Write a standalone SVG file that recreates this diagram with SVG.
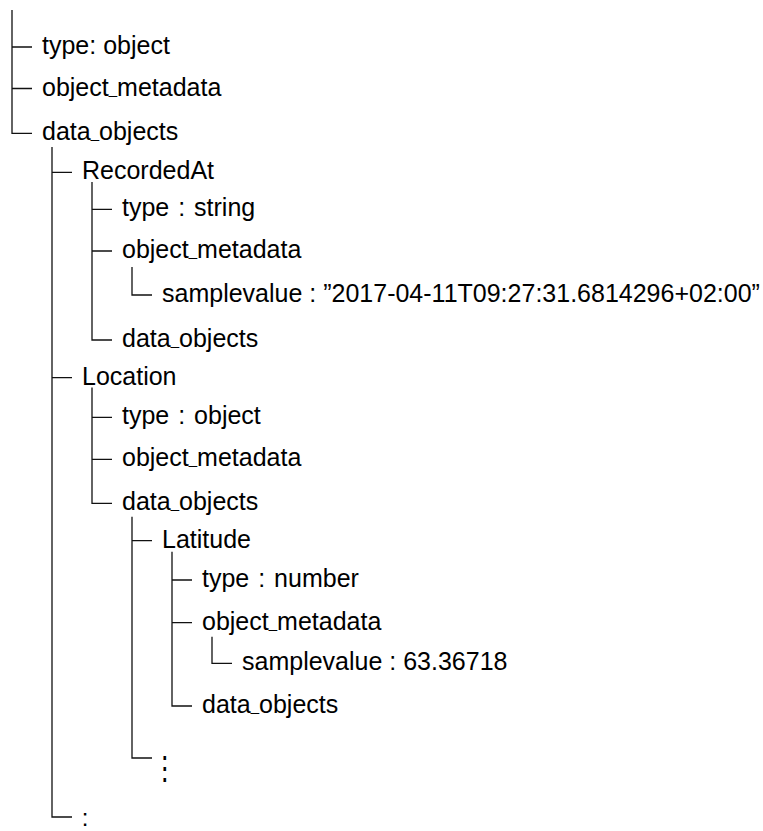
<svg xmlns="http://www.w3.org/2000/svg" width="763" height="831" viewBox="0 0 763 831">
  <style>
    .bg { fill: #ffffff; }
    .edge { fill: none; stroke: #111111; stroke-width: 1.3; }
    .lbl { font-family: "Liberation Sans", Arial, sans-serif; font-size: 25px; fill: #000000; }
    .kv { word-spacing: 2px; }
    .us { font-size: 15px; baseline-shift: 2px; }
    .dots { font-family: "DejaVu Sans", sans-serif; font-size: 25px; fill: #000000; }
    .colon { font-family: "Liberation Sans", Arial, sans-serif; font-size: 24px; fill: #000000; }
  </style>
  <rect class="bg" x="0" y="0" width="763" height="831"/>

  <!-- tree connectors: one vertical spine per parent, with horizontal stubs -->
  <g id="connectors">
    <!-- root level -->
    <path class="edge" d="M12 10 V133.3 H32 M12 47 H32 M12 88.5 H32"/>
    <!-- data_objects (root) -->
    <path class="edge" d="M52 147 V817 H72 M52 172.3 H72 M52 377.7 H72"/>
    <!-- RecordedAt -->
    <path class="edge" d="M92 182 V340 H112 M92 209.3 H112 M92 251 H112"/>
    <path class="edge" d="M132 267 V295 H152"/>
    <!-- Location -->
    <path class="edge" d="M92 387.5 V503.3 H112 M92 417.3 H112 M92 459.3 H112"/>
    <path class="edge" d="M132 516.7 V758 H152 M132 540.7 H152"/>
    <!-- Latitude -->
    <path class="edge" d="M172 551.7 V706 H192 M172 580 H192 M172 622.7 H192"/>
    <path class="edge" d="M212 636.7 V663.3 H232"/>
  </g>

  <!-- root entries -->
  <g id="root-type"><text class="lbl" x="42" y="54">type: object</text></g>
  <g id="root-metadata"><text class="lbl" x="42" y="95.5">object<tspan class="us">_</tspan>metadata</text></g>
  <g id="root-data"><text class="lbl" x="42" y="140.3">data<tspan class="us">_</tspan>objects</text></g>

  <!-- RecordedAt -->
  <g id="recordedat"><text class="lbl" x="82" y="179.3">RecordedAt</text></g>
  <g id="recordedat-type"><text class="lbl kv" x="122" y="216.3">type : string</text></g>
  <g id="recordedat-metadata"><text class="lbl" x="122" y="258">object<tspan class="us">_</tspan>metadata</text></g>
  <g id="recordedat-sample"><text class="lbl" x="162" y="302">samplevalue : ”2017-04-11T09:27:31.6814296+02:00”</text></g>
  <g id="recordedat-data"><text class="lbl" x="122" y="347">data<tspan class="us">_</tspan>objects</text></g>

  <!-- Location -->
  <g id="location"><text class="lbl" x="82" y="384.7">Location</text></g>
  <g id="location-type"><text class="lbl kv" x="122" y="424.3">type : object</text></g>
  <g id="location-metadata"><text class="lbl" x="122" y="466.3">object<tspan class="us">_</tspan>metadata</text></g>
  <g id="location-data"><text class="lbl" x="122" y="510.3">data<tspan class="us">_</tspan>objects</text></g>

  <!-- Latitude -->
  <g id="latitude"><text class="lbl" x="162" y="547.7">Latitude</text></g>
  <g id="latitude-type"><text class="lbl kv" x="202" y="587">type : number</text></g>
  <g id="latitude-metadata"><text class="lbl" x="202" y="629.7">object<tspan class="us">_</tspan>metadata</text></g>
  <g id="latitude-sample"><text class="lbl" x="242" y="670.3">samplevalue : 63.36718</text></g>
  <g id="latitude-data"><text class="lbl" x="202" y="713">data<tspan class="us">_</tspan>objects</text></g>

  <!-- elided siblings -->
  <g id="location-more"><text class="dots" transform="translate(152.3 778.7) scale(1 1.3)" x="0" y="0">⋮</text></g>
  <g id="root-more"><text class="colon" x="81.7" y="826">:</text></g>
</svg>
